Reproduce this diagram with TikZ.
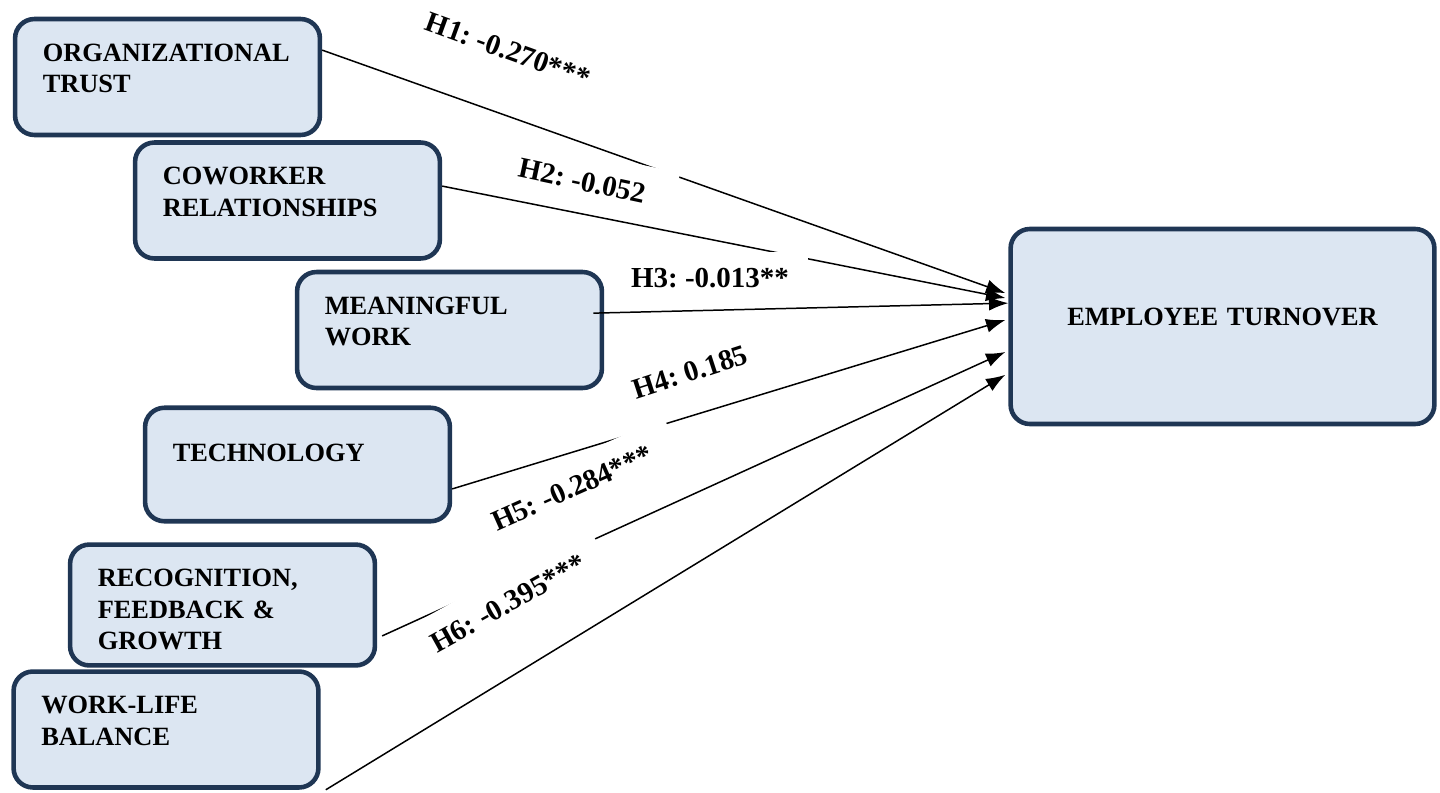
\documentclass[tikz,border=0pt]{standalone}
\usepackage{fontspec}
\setmainfont{Liberation Serif}
\usetikzlibrary{arrows.meta}
\definecolor{factorline}{HTML}{1F3654}
\definecolor{factorfill}{HTML}{DCE6F2}

\begin{document}
\begin{tikzpicture}[x=0.02cm, y=-0.02cm,
    factor/.style={draw=factorline, fill=factorfill, line width=2.6pt, rounded corners=11pt,
        font=\fontsize{15}{18}\selectfont\bfseries, align=left, text width=142pt,
        minimum width=173.5pt, inner xsep=15.6pt, inner ysep=0pt,
        text height=24pt, text depth=42pt},
    hyp/.style={-{Latex[length=11pt,width=8pt]}, line width=0.85pt},
    coef/.style={fill=white, font=\fontsize{16.5}{19}\selectfont\bfseries\frenchspacing}]

    \useasboundingbox (0,0) rectangle (1440,792);

    % predictors
    \node[factor] (trust) at (167.5,77) {ORGANIZATIONAL\\TRUST};
    \node[factor] (cowork) at (287.5,200.5) {COWORKER\\RELATIONSHIPS};
    \node[factor] (meaning) at (449.5,330) {MEANINGFUL\\WORK};
    \node[factor, text height=30.6pt, text depth=34pt] (tech) at (297.5,464.5) {TECHNOLOGY};
    \node[factor, text depth=44.8pt] (recog) at (222.5,605) {RECOGNITION,\\FEEDBACK \&\\GROWTH};
    \node[factor] (balance) at (166,729.5) {WORK-LIFE\\BALANCE};

    % outcome
    \node[factor, align=center, text width=210pt, minimum width=240.4pt,
          text height=55pt, text depth=56pt] (turnover) at (1222.5,326.5) {EMPLOYEE TURNOVER};

    % paths
    \foreach \from/\fx/\fy/\tx/\ty in {trust/0/15.3/-1.7/19, cowork/0/8.2/-1.7/16.2,
        meaning/-6.2/9.6/0/13.3, tech/0/-13.9/-1.7/3.7, recog/2.8/-17.6/-1.7/-14.5,
        balance/2.9/-34.3/-1.7/-27.5}
        \draw[hyp] ([xshift=\fx pt, yshift=\fy pt]\from.east) -- ([xshift=\tx pt, yshift=\ty pt]turnover.west);

    % path coefficients (white boxes break the lines behind them)
    \foreach \name/\x/\y/\ang/\sx/\sy/\txt in {h1/508/50/-20/6/8/{H1: -0.270***},
        h2/582/181/-12/17/10.5/{H2: -0.052}, h3/710/278/0/11/9/{H3: -0.013**},
        h4/690/372/18/6/8/{H4: 0.185}, h5/572/488/24/15/10/{H5: -0.284***},
        h6/508/603/29/12/10/{H6: -0.395***}}
        \node[coef, rotate=\ang, inner xsep=\sx pt, inner ysep=\sy pt] (\name) at (\x,\y) {\txt};
\end{tikzpicture}
\end{document}
